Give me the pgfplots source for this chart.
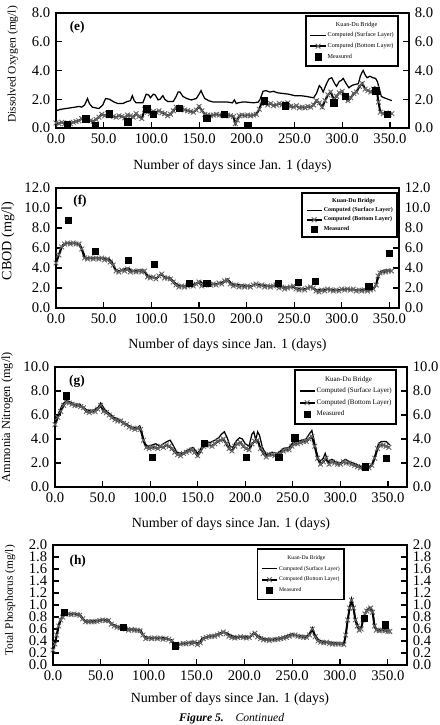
\documentclass[border=0pt]{standalone}
\usepackage{pgfplots}
\pgfplotsset{compat=1.18}
\usepackage{fontspec}
\setmainfont{Liberation Serif}
\pgfplotsset{
  panel/.style={
    scale only axis, xmin=0, ymin=0,
    xtick={0,50,...,350}, xtick pos=bottom, ytick pos=both,
    tick align=inside, major tick length=3.5pt,
    axis line style={line width=1pt}, every tick/.style={black, line width=0.7pt},
    scaled ticks=false,
    /pgf/number format/fixed, /pgf/number format/fixed zerofill,
    /pgf/number format/precision=1, /pgf/number format/assume math mode=true,
    tick label style={font=\rmfamily\fontsize{8.8}{10}\selectfont},
    xlabel={Number of days since Jan. 1 (days)},
    xlabel style={font=\fontsize{8.4}{10}\selectfont, at={(axis description cs:0.5,0)}, anchor=center},
    ylabel style={anchor=center},
    legend cell align=left,
    legend style={draw=black, line width=1.1pt, cells={anchor=west},
      nodes={inner sep=0.6pt, text depth=0.1em}, inner xsep=2pt},
    legend image code/.code={\draw[mark repeat=2,mark phase=2] plot coordinates {(0cm,0cm)(0.16cm,0cm)(0.32cm,0cm)};},
  },
  rightax/.style={
    scale only axis, xmin=0, ymin=0, hide x axis, axis y line*=right,
    major tick length=0pt, axis line style={draw=none},
    /pgf/number format/fixed, /pgf/number format/fixed zerofill,
    /pgf/number format/precision=1, /pgf/number format/assume math mode=true,
    scaled ticks=false,
    tick label style={font=\rmfamily\fontsize{8.8}{10}\selectfont},
  },
  surf/.style={black, line width=0.75pt, no markers},
  bott/.style={black, line width=1.2pt, mark=x, mark size=2pt, mark options={black!60, line width=0.55pt}},
  meas/.style={only marks, mark=square*, mark size=1.9pt, mark options={black, line width=0.2pt}},
}
\newcommand{\plab}[1]{\node[font=\fontsize{8}{9}\selectfont\bfseries] at #1;}
\begin{document}
\begin{tikzpicture}
\useasboundingbox (0,0) rectangle (264pt,435pt);
% ---------------- (e) Dissolved Oxygen
\begin{axis}[panel, at={(33.6pt,358.2pt)}, width=211.8pt, height=69pt, xmax=370, ymax=8,
  ytick={0,2,...,8},
  xlabel style={yshift=-23pt},
  ylabel={Dissolved Oxygen (mg/l)},
  ylabel style={font=\fontsize{6.9}{8}\selectfont, at={(axis description cs:-0.122,0.552)}},
  legend style={at={(1,1)}, anchor=north east, xshift=-6pt, yshift=-1.2pt,
    font=\fontsize{3.7}{4.4}\selectfont, row sep=1.6pt, inner ysep=3pt}]
\addlegendimage{empty legend}\addlegendentry{\hspace{5pt}Kuan-Du Bridge}
\addplot[surf] coordinates {(0,1.2)(5,1.3)(10,1.35)(15,1.4)(20,1.45)(24,1.5)(27,1.45)(30,1.6)(33,2.05)(35,1.7)(38,1.45)(45,1.35)(49,1.6)(52,2.05)(56,2.0)(61,1.8)(65,1.7)(70,1.7)(75,1.85)(78,1.9)(80,2.25)(82,1.9)(84,1.75)(91,1.75)(94.5,2.35)(97,2.3)(99,2.1)(102,2.35)(104,2.3)(107,1.95)(109,2.0)(112,2.25)(114,2.0)(117,1.85)(123,1.85)(126,2.2)(128,2.5)(130,2.5)(133,2.2)(137,2.05)(142,1.95)(147,2.05)(150,2.35)(152,2.6)(154,2.3)(156,2.05)(160,1.9)(165,1.8)(170,1.8)(180,1.8)(185,1.75)(187,1.95)(189,1.7)(191,1.75)(195,1.8)(200,1.8)(207,1.75)(212,1.8)(214,2.0)(217,2.55)(220,2.6)(224,2.5)(228,2.55)(232,2.45)(238,2.4)(244,2.35)(250,2.25)(256,2.25)(262,2.2)(270,2.1)(273,2.4)(276,2.95)(278,2.8)(280,2.5)(283,3.0)(286,3.4)(289,3.5)(292,3.1)(294,2.9)(297,3.25)(299,3.3)(301,3.45)(304,3.1)(307,2.8)(310,2.95)(312,3.0)(315,3.05)(317,3.1)(319,3.6)(321,3.9)(322,4.0)(324,3.7)(326,3.5)(329,3.6)(332,3.5)(335,3.45)(337,3.2)(339,2.7)(341,2.2)(344,2.1)(348,2.0)(352,1.9)};
\addlegendentry{Computed (Surface Layer)}
\addplot[bott] coordinates {(0,0.35)(3,0.3)(6,0.4)(9,0.3)(12,0.35)(15,0.3)(18,0.4)(21,0.45)(24,0.5)(27,0.65)(30,0.55)(33,0.7)(36,0.5)(39,0.45)(42,0.6)(45,0.75)(48,0.95)(51,0.85)(54,1.0)(57,0.85)(60,0.8)(63,0.75)(66,0.85)(69,0.8)(72,0.7)(75,0.9)(78,0.85)(81,0.75)(84,1.0)(87,0.8)(90,0.65)(93,1.3)(96,1.1)(99,1.0)(102,1.15)(105,1.1)(108,1.2)(111,1.05)(114,1.0)(117,0.85)(120,0.95)(123,1.2)(126,1.45)(129,1.3)(132,1.35)(135,1.25)(138,1.2)(141,1.15)(144,1.1)(147,1.25)(150,1.5)(153,1.2)(156,0.95)(159,0.9)(162,0.85)(165,0.9)(168,0.95)(171,0.9)(174,0.9)(177,0.85)(180,0.9)(183,0.85)(186,0.8)(188,0.3)(190,0.55)(192,0.85)(195,0.9)(198,0.85)(201,0.9)(204,0.85)(207,0.9)(210,0.95)(213,1.3)(216,1.85)(219,1.7)(222,1.6)(225,1.7)(228,1.55)(231,1.6)(234,1.7)(237,1.6)(240,1.7)(243,1.75)(246,1.5)(249,1.45)(252,1.55)(255,1.4)(258,1.45)(261,1.4)(264,1.5)(267,1.45)(270,1.6)(273,1.9)(276,1.75)(279,1.45)(282,1.9)(285,2.3)(288,2.5)(291,2.0)(294,2.2)(297,2.45)(300,2.55)(303,2.1)(306,1.9)(309,2.1)(312,2.4)(315,2.5)(318,2.9)(321,3.1)(324,2.7)(327,2.6)(330,2.5)(333,2.7)(336,2.75)(338,1.8)(340,1.1)(343,1.0)(346,1.05)(349,0.95)(352,1.0)};
\addlegendentry{Computed (Bottom Layer)}
\addplot[meas] coordinates {(12,0.25)(31,0.65)(41,0.2)(56,1.0)(75,0.45)(95,1.35)(102,0.95)(129,1.4)(158,0.7)(176,0.95)(201,0.2)(218,1.9)(240,1.55)(291,1.75)(303,2.2)(335,2.6)(347,0.95)};
\addlegendentry{Measured}
\plab{(axis description cs:0.06,0.878) {(e)}}
\end{axis}
\begin{axis}[rightax, at={(33.6pt,358.2pt)}, width=211.8pt, height=69pt, xmax=370, ymax=8, ytick={0,2,...,8}]
\addplot[draw=none] coordinates {(0,0)};
\end{axis}
% ---------------- (f) CBOD
\begin{axis}[panel, at={(33.6pt,250.2pt)}, width=205.8pt, height=72pt, xmax=360, ymax=12,
  ytick={0,2,...,12},
  xlabel style={yshift=-22.5pt},
  ylabel={CBOD (mg/l)},
  ylabel style={font=\fontsize{8.5}{9}\selectfont, at={(axis description cs:-0.14,0.558)}},
  legend style={at={(1,1)}, anchor=north east, xshift=-0.6pt, yshift=-2.4pt,
    font=\fontsize{3.6}{4.2}\selectfont\bfseries, row sep=0.9pt, inner ysep=2.5pt}]
\addlegendimage{empty legend}\addlegendentry{\hspace{5pt}Kuan-Du Bridge}
\addplot[surf] coordinates {(0,4.7)(4,5.6)(7,6.3)(10,6.5)(15,6.5)(20,6.5)(25,6.4)(28,5.8)(31,5.0)(40,5.0)(50,5.0)(56,4.9)(59,4.6)(62,3.9)(66,3.7)(72,3.9)(76,4.0)(80,3.7)(86,3.8)(92,3.8)(96,3.3)(100,3.1)(106,3.0)(110,3.4)(114,3.1)(120,3.0)(124,2.6)(128,2.3)(135,2.2)(142,2.3)(148,2.5)(151,2.7)(155,2.4)(160,2.5)(168,2.4)(175,2.6)(180,2.9)(185,2.4)(195,2.3)(205,2.2)(210,2.4)(218,2.3)(225,2.2)(235,2.1)(245,2.1)(252,2.0)(260,1.9)(268,2.1)(274,1.8)(285,1.9)(295,1.8)(305,1.9)(315,1.8)(325,1.9)(334,2.0)(337,2.6)(340,3.6)(345,3.8)(352,3.8)};
\addlegendentry{Computed (Surface Layer)}
\addplot[bott] coordinates {(0,4.5)(3,5.3)(6,6.1)(9,6.4)(12,6.5)(15,6.4)(18,6.5)(21,6.4)(24,6.4)(27,5.9)(30,5.0)(33,4.9)(36,5.0)(39,4.9)(42,5.0)(45,4.9)(48,5.0)(51,4.8)(54,4.9)(57,4.6)(60,4.3)(63,3.7)(66,3.6)(69,3.8)(72,3.7)(75,3.9)(78,3.6)(81,3.7)(84,3.6)(87,3.7)(90,3.6)(93,3.7)(96,3.1)(99,3.0)(102,3.1)(105,2.9)(108,3.2)(111,3.4)(114,3.0)(117,3.0)(120,2.9)(123,2.6)(126,2.3)(129,2.1)(132,2.2)(135,2.1)(138,2.2)(141,2.3)(144,2.2)(147,2.4)(150,2.6)(153,2.2)(156,2.3)(159,2.4)(162,2.3)(165,2.4)(168,2.3)(171,2.5)(174,2.4)(177,2.7)(180,2.8)(183,2.4)(186,2.2)(189,2.3)(192,2.1)(195,2.2)(198,2.1)(201,2.2)(204,2.1)(207,2.3)(210,2.4)(213,2.2)(216,2.3)(219,2.1)(222,2.2)(225,2.1)(228,2.2)(231,2.3)(234,2.0)(237,2.1)(240,1.9)(243,2.0)(246,2.1)(249,2.2)(252,1.9)(255,1.8)(258,1.9)(261,1.8)(264,2.0)(267,2.1)(270,2.0)(273,1.7)(276,1.6)(279,1.8)(282,1.7)(285,1.9)(288,1.8)(291,1.7)(294,1.8)(297,1.7)(300,1.9)(303,1.8)(306,1.9)(309,1.8)(312,1.9)(315,1.7)(318,1.8)(321,1.7)(324,1.8)(327,1.7)(330,1.8)(333,1.9)(336,2.3)(338,3.2)(340,3.5)(343,3.6)(346,3.6)(349,3.7)(352,3.7)};
\addlegendentry{Computed (Bottom Layer)}
\addplot[meas] coordinates {(13,8.75)(41,5.7)(76,4.8)(103,4.35)(140,2.45)(158,2.5)(233,2.45)(254,2.6)(272,2.7)(328,2.2)(350,5.5)};
\addlegendentry{Measured}
\plab{(axis description cs:0.07,0.89) {(f)}}
\end{axis}
\begin{axis}[rightax, at={(33.6pt,250.2pt)}, width=205.8pt, height=72pt, xmax=360, ymax=12, ytick={0,2,...,12}]
\addplot[draw=none] coordinates {(0,0)};
\end{axis}
% ---------------- (g) Ammonia Nitrogen
\begin{axis}[panel, at={(33pt,142.8pt)}, width=211.2pt, height=72pt, xmax=370, ymax=10,
  ytick={0,2,...,10},
  xlabel style={yshift=-22pt},
  ylabel={Ammonia Nitrogen (mg/l)},
  ylabel style={font=\fontsize{7.4}{8}\selectfont, at={(axis description cs:-0.136,0.583)}},
  legend style={at={(1,1)}, anchor=north east, xshift=-6pt, yshift=-1.2pt,
    font=\fontsize{4.2}{5}\selectfont, row sep=1.8pt, inner ysep=3.2pt}]
\addlegendimage{empty legend}\addlegendentry{\hspace{5pt}Kuan-Du Bridge}
\addplot[surf] coordinates {(0,5.4)(4,6.2)(8,6.9)(12,7.2)(16,7.1)(20,6.9)(26,6.9)(30,6.6)(34,6.4)(40,6.4)(45,6.6)(48,7.0)(52,6.5)(56,6.2)(62,5.8)(68,5.6)(74,5.3)(80,5.0)(86,4.9)(89,5.1)(91,4.7)(94,3.6)(98,3.4)(102,3.5)(106,3.6)(110,3.4)(114,3.6)(118,3.8)(121,3.9)(124,3.5)(128,2.9)(134,2.8)(140,3.1)(145,3.3)(150,2.8)(154,3.3)(158,3.8)(163,3.7)(168,3.9)(172,4.1)(175,4.4)(178,4.6)(181,4.1)(184,3.4)(187,3.3)(190,3.8)(194,4.1)(197,4.0)(200,3.6)(204,3.4)(207,4.4)(209,4.6)(211,3.9)(213,4.6)(215,4.3)(218,3.3)(222,2.7)(228,2.9)(234,2.8)(240,3.2)(246,3.3)(250,3.7)(255,3.8)(260,3.9)(264,4.0)(268,4.5)(270,4.7)(272,4.0)(275,2.9)(278,2.1)(282,2.4)(284,2.8)(287,2.1)(291,2.3)(295,2.1)(300,2.0)(305,2.3)(310,2.1)(316,1.9)(322,1.7)(330,1.7)(334,1.9)(337,2.8)(340,3.6)(343,3.8)(348,3.8)(352,3.5)};
\addlegendentry{Computed (Surface Layer)}
\addplot[bott] coordinates {(0,5.2)(3,5.8)(6,6.3)(9,6.8)(12,7.1)(15,7.0)(18,6.9)(21,6.8)(24,6.8)(27,6.7)(30,6.6)(33,6.3)(36,6.2)(39,6.3)(42,6.3)(45,6.5)(48,6.8)(51,6.3)(54,6.2)(57,6.0)(60,5.8)(63,5.6)(66,5.5)(69,5.5)(72,5.3)(75,5.2)(78,5.0)(81,4.9)(84,4.8)(87,4.9)(90,4.8)(93,3.9)(96,3.3)(99,3.2)(102,3.3)(105,3.3)(108,3.2)(111,3.4)(114,3.3)(117,3.5)(120,3.4)(123,3.2)(126,2.9)(129,2.7)(132,2.6)(135,2.8)(138,2.9)(141,3.0)(144,3.1)(147,2.9)(150,2.6)(153,3.0)(156,3.4)(159,3.5)(162,3.5)(165,3.4)(168,3.6)(171,3.8)(174,3.9)(177,4.0)(180,3.6)(183,3.2)(186,3.0)(189,3.4)(192,3.6)(195,3.7)(198,3.4)(201,3.2)(204,3.1)(207,3.6)(210,3.8)(213,3.9)(216,3.2)(219,2.8)(222,2.5)(225,2.7)(228,2.7)(231,2.6)(234,2.7)(237,2.8)(240,3.0)(243,3.1)(246,3.1)(249,3.4)(252,3.6)(255,3.6)(258,3.7)(261,3.8)(264,3.8)(267,4.0)(270,4.2)(273,3.4)(276,2.4)(279,1.9)(282,2.1)(285,2.4)(288,1.9)(291,2.1)(294,2.0)(297,1.9)(300,1.9)(303,2.1)(306,2.0)(309,2.0)(312,1.9)(315,1.8)(318,1.7)(321,1.6)(324,1.6)(327,1.7)(330,1.6)(333,1.8)(336,2.4)(339,3.2)(342,3.5)(345,3.5)(348,3.4)(351,3.3)};
\addlegendentry{Computed (Bottom Layer)}
\addplot[meas] coordinates {(12,7.6)(102,2.5)(157,3.65)(201,2.5)(235,2.5)(252,4.1)(326,1.7)(348,2.4)};
\addlegendentry{Measured}
\plab{(axis description cs:0.0625,0.883) {(g)}}
\end{axis}
\begin{axis}[rightax, at={(33pt,142.8pt)}, width=211.2pt, height=72pt, xmax=370, ymax=10, ytick={0,2,...,10}]
\addplot[draw=none] coordinates {(0,0)};
\end{axis}
% ---------------- (h) Total Phosphorus
\begin{axis}[panel, at={(31.8pt,36pt)}, width=212.4pt, height=72pt, xmax=370, ymax=2,
  ytick={0,0.2,...,2.01}, yticklabel style={inner ysep=0pt},
  xlabel style={yshift=-20.6pt},
  ylabel={Total Phosphorus (mg/l)},
  ylabel style={font=\fontsize{6.8}{8}\selectfont, at={(axis description cs:-0.121,0.54)}},
  legend style={at={(1,1)}, anchor=north east, xshift=-37.2pt, yshift=-1.8pt,
    font=\fontsize{3.4}{4}\selectfont, row sep=1.9pt, inner ysep=3.2pt}]
\addlegendimage{empty legend}\addlegendentry{\hspace{5pt}Kuan-Du Bridge}
\addplot[surf] coordinates {(0,0.28)(3,0.45)(6,0.68)(9,0.8)(12,0.86)(20,0.86)(28,0.85)(31,0.78)(34,0.73)(45,0.74)(52,0.76)(58,0.75)(61,0.69)(68,0.64)(74,0.63)(78,0.6)(85,0.6)(92,0.58)(95,0.48)(100,0.46)(110,0.46)(118,0.45)(124,0.42)(127,0.35)(132,0.34)(140,0.37)(148,0.39)(152,0.36)(156,0.45)(162,0.48)(170,0.5)(178,0.56)(183,0.52)(190,0.47)(200,0.48)(206,0.47)(210,0.54)(214,0.49)(220,0.44)(230,0.43)(240,0.46)(250,0.52)(256,0.49)(265,0.48)(268,0.52)(271,0.62)(274,0.5)(278,0.41)(285,0.39)(295,0.37)(304,0.36)(306,0.52)(309,0.85)(312,1.05)(314,0.98)(316,0.78)(319,0.64)(322,0.62)(325,0.8)(328,0.92)(331,0.96)(334,0.92)(336,0.68)(338,0.6)(345,0.59)(352,0.58)};
\addlegendentry{Computed (Surface Layer)}
\addplot[bott] coordinates {(0,0.25)(2,0.35)(4,0.5)(6,0.65)(8,0.75)(10,0.8)(13,0.85)(16,0.85)(19,0.84)(22,0.85)(25,0.84)(28,0.83)(31,0.77)(34,0.72)(37,0.72)(40,0.72)(43,0.72)(46,0.73)(49,0.74)(52,0.75)(55,0.74)(58,0.74)(61,0.68)(64,0.65)(67,0.63)(70,0.62)(73,0.63)(76,0.6)(79,0.58)(82,0.59)(85,0.58)(88,0.58)(91,0.57)(94,0.5)(97,0.44)(100,0.45)(103,0.44)(106,0.45)(109,0.44)(112,0.45)(115,0.43)(118,0.44)(121,0.43)(124,0.4)(127,0.33)(130,0.32)(133,0.35)(136,0.36)(139,0.35)(142,0.37)(145,0.36)(148,0.38)(151,0.34)(154,0.37)(157,0.44)(160,0.46)(163,0.47)(166,0.48)(169,0.48)(172,0.5)(175,0.52)(178,0.55)(181,0.52)(184,0.48)(187,0.46)(190,0.45)(193,0.46)(196,0.47)(199,0.46)(202,0.45)(205,0.46)(208,0.5)(211,0.53)(214,0.47)(217,0.44)(220,0.42)(223,0.42)(226,0.41)(229,0.42)(232,0.42)(235,0.43)(238,0.44)(241,0.45)(244,0.46)(247,0.48)(250,0.5)(253,0.5)(256,0.48)(259,0.47)(262,0.46)(265,0.46)(268,0.5)(271,0.6)(274,0.47)(277,0.4)(280,0.38)(283,0.37)(286,0.38)(289,0.36)(292,0.35)(295,0.35)(298,0.35)(301,0.35)(304,0.34)(306,0.5)(308,0.75)(310,0.95)(312,1.08)(314,0.95)(316,0.75)(318,0.65)(320,0.58)(322,0.6)(324,0.75)(326,0.85)(328,0.9)(330,0.92)(332,0.95)(334,0.88)(336,0.65)(338,0.58)(341,0.57)(344,0.58)(347,0.57)(350,0.56)(352,0.56)};
\addlegendentry{Computed (Bottom Layer)}
\addplot[meas] coordinates {(12,0.88)(73,0.63)(128,0.32)(325,0.78)(347,0.67)};
\addlegendentry{Measured}
\plab{(axis description cs:0.07,0.867) {(h)}}
\end{axis}
\begin{axis}[rightax, at={(31.8pt,36pt)}, width=212.4pt, height=72pt, xmax=370, ymax=2, ytick={0,0.2,...,2.01}, yticklabel style={inner ysep=0pt}]
\addplot[draw=none] coordinates {(0,0)};
\end{axis}
\node[anchor=south, inner sep=0pt, font=\fontsize{7}{8}\selectfont] at (139pt,0.4pt) {\textbf{\textit{Figure 5.}}\quad\textit{Continued}};
\end{tikzpicture}
\end{document}
